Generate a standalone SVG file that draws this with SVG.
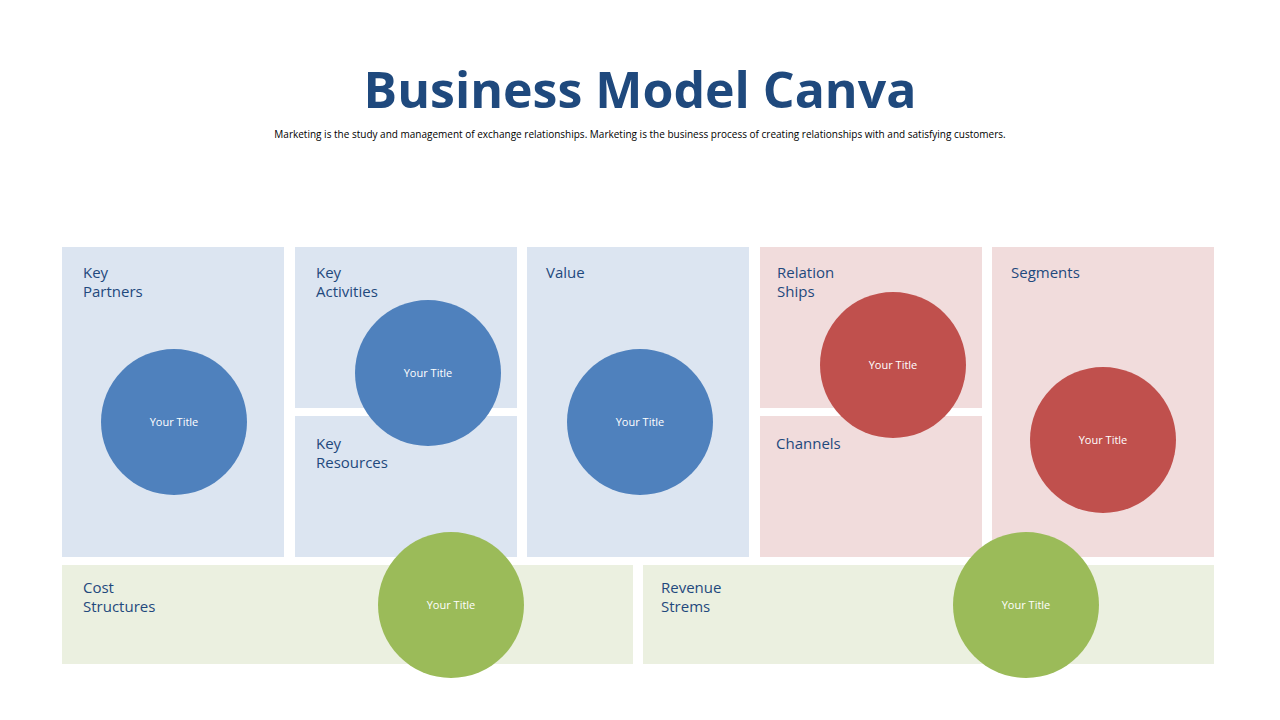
<svg xmlns="http://www.w3.org/2000/svg" width="1280" height="720" viewBox="0 0 1280 720">
<style>
.t{font-family:"Open Sans","Noto Sans",sans-serif;font-weight:bold;font-size:50px;fill:#1F497D}
.s{font-family:"Open Sans","Noto Sans",sans-serif;font-size:10px;fill:#000}
.l{font-family:"Open Sans","Noto Sans",sans-serif;font-size:15px;fill:#1F497D}
.c{font-family:"Open Sans","Noto Sans",sans-serif;font-size:11px;fill:#fff;text-anchor:middle}
.bb{fill:#DCE5F1}.bp{fill:#F1DCDC}.bg{fill:#EBF0E0}
.cb{fill:#4F81BD}.cr{fill:#C0504D}.cg{fill:#9BBB59}
</style>
<rect width="1280" height="720" fill="#fff"/>
<text class="t" x="640" y="108" text-anchor="middle">Business Model Canva</text>
<text class="s" x="640" y="138" text-anchor="middle">Marketing is the study and management of exchange relationships. Marketing is the  business process of creating relationships with and satisfying customers.</text>
<g id="key-partners"><rect class="bb" x="62" y="247" width="222" height="310"/><text class="l" x="83" y="278">Key</text><text class="l" x="83" y="297">Partners</text></g>
<g id="key-activities"><rect class="bb" x="295" y="247" width="222" height="161"/><text class="l" x="316" y="278">Key</text><text class="l" x="316" y="297">Activities</text></g>
<g id="key-resources"><rect class="bb" x="295" y="416" width="222" height="141"/><text class="l" x="316" y="449">Key</text><text class="l" x="316" y="468">Resources</text></g>
<g id="value"><rect class="bb" x="527" y="247" width="222" height="310"/><text class="l" x="546" y="278">Value</text></g>
<g id="relationships"><rect class="bp" x="760" y="247" width="222" height="161"/><text class="l" x="777" y="278">Relation</text><text class="l" x="777" y="297">Ships</text></g>
<g id="channels"><rect class="bp" x="760" y="416" width="222" height="141"/><text class="l" x="776" y="449">Channels</text></g>
<g id="segments"><rect class="bp" x="992" y="247" width="222" height="310"/><text class="l" x="1011" y="278">Segments</text></g>
<g id="cost"><rect class="bg" x="62" y="565" width="571" height="99"/><text class="l" x="83" y="593">Cost</text><text class="l" x="83" y="612">Structures</text></g>
<g id="revenue"><rect class="bg" x="643" y="565" width="571" height="99"/><text class="l" x="661" y="593">Revenue</text><text class="l" x="661" y="612">Strems</text></g>
<g id="c1"><circle class="cb" cx="174" cy="422" r="73"/><text class="c" x="174" y="426">Your Title</text></g>
<g id="c2"><circle class="cb" cx="428" cy="373" r="73"/><text class="c" x="428" y="377">Your Title</text></g>
<g id="c3"><circle class="cb" cx="640" cy="422" r="73"/><text class="c" x="640" y="426">Your Title</text></g>
<g id="c4"><circle class="cr" cx="893" cy="365" r="73"/><text class="c" x="893" y="369">Your Title</text></g>
<g id="c5"><circle class="cr" cx="1103" cy="440" r="73"/><text class="c" x="1103" y="444">Your Title</text></g>
<g id="c6"><circle class="cg" cx="451" cy="605" r="73"/><text class="c" x="451" y="609">Your Title</text></g>
<g id="c7"><circle class="cg" cx="1026" cy="605" r="73"/><text class="c" x="1026" y="609">Your Title</text></g>
<g id="connectors"/>
</svg>
